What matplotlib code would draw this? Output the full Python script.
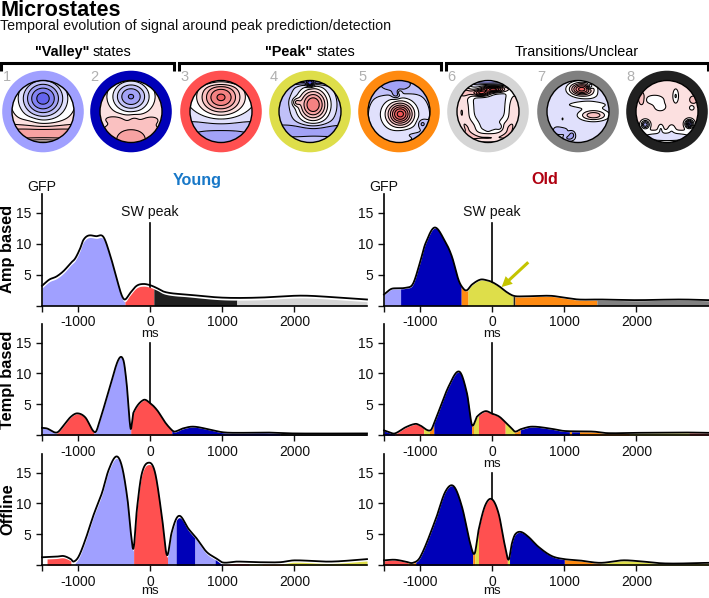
import numpy as np
import matplotlib
matplotlib.use("Agg")
import matplotlib.pyplot as plt
from matplotlib.colors import LinearSegmentedColormap
from matplotlib.patches import Circle

plt.rcParams['font.family'] = ['Liberation Sans', 'DejaVu Sans']

W, H = 709, 598

state_colors = {1: '#A0A0FF', 2: '#0000B8', 3: '#FF5050', 4: '#DEDE4A',
                5: '#FF8A10', 6: '#D5D5D5', 7: '#808080', 8: '#202020'}

# ---- GFP curves (ms, value) and state segments
young_amp_t = [-1500,-1400,-1300,-1200,-1100,-1041,-972,-926,-857,-750,-650,-557,-465,-396,-350,-281,-189,-97,0,100,180,300,500,1000,1500,2000,2200,2500,3005]
young_amp_y = [3.2,4.2,4.7,5.6,6.9,7.6,9.2,10.6,11.3,11.2,11.1,8.2,4.4,1.7,1.0,2.0,3.2,3.5,3.3,2.8,2.3,2.0,1.8,1.3,1.3,1.6,1.6,1.4,1.0]
young_amp_edges = [-1500,-350,50,1200,3005]
young_amp_states = [1,3,8,6]

old_amp_t = [-1500,-1400,-1300,-1200,-1100,-1000,-926,-797,-650,-558,-465,-396,-350,-281,-166,-74,0,100,200,295,400,800,1000,1200,1500,2000,2600,3005]
old_amp_y = [1.8,2.7,2.8,2.9,3.5,7.0,10.0,12.6,10.3,7.9,4.1,2.7,2.5,3.4,4.2,4.1,3.8,3.1,2.2,1.6,1.5,1.6,1.3,1.0,1.0,0.9,1.0,0.9]
old_amp_edges = [-1500,-1270,-430,-335,290,315,1450,3005]
old_amp_states = [1,2,5,4,8,5,7]

young_tpl_t = [-1500,-1430,-1295,-1200,-1100,-1009,-900,-765,-696,-557,-442,-373,-327,-272,-235,-97,0,100,200,295,340,450,594,800,1000,1200,1600,2000,3005]
young_tpl_y = [1.2,1.1,0.45,1.6,3.0,3.55,2.9,0.5,2.5,7.9,12.2,12.2,8.4,1.1,3.6,5.7,5.2,4.0,2.2,0.9,0.6,1.1,1.4,1.0,0.5,0.4,0.45,0.3,0.3]
young_tpl_edges = [-1500,-1300,-780,-270,300,1800,3005]
young_tpl_states = [1,3,1,3,2,8]

old_tpl_t = [-1500,-1430,-1350,-1200,-1064,-1000,-857,-788,-600,-456,-350,-281,-212,-97,0,100,200,272,318,400,548,800,1000,1400,1600,2000,2700,3005]
old_tpl_y = [0.8,0.5,0.3,1.3,1.85,1.6,0.8,2.5,8.0,10.3,6.8,1.7,3.0,3.9,3.5,3.0,1.9,1.1,0.6,1.0,1.4,1.1,0.7,0.6,0.35,0.4,0.45,0.4]
old_tpl_edges = [-1500,-1350,-950,-870,-810,-285,-260,-190,180,310,390,1070,1100,1210,1900,2730,3005]
old_tpl_states = [2,3,4,5,2,5,4,3,4,5,2,5,2,5,4,3]

young_off_t = [-1500,-1300,-1200,-1100,-1062,-993,-900,-785,-669,-577,-471,-392,-314,-268,-231,-185,-115,-14,69,162,231,295,364,424,525,640,779,917,1009,1200,1500,1800,2000,2500,3005]
young_off_y = [1.3,1.4,1.5,1.0,0.6,1.4,4.1,8.15,11.7,15.4,17.6,16.0,10.6,5.2,2.75,9.0,14.9,16.6,14.9,7.9,1.67,5.2,7.6,7.9,6.0,4.4,2.2,1.1,0.45,0.6,0.5,0.5,0.8,0.6,1.0]
young_off_edges = [-1430,-1100,-1040,-230,240,360,620,900,1010,1370,1550,1850,3005]
young_off_states = [3,0,1,3,1,2,1,2,3,4,5,4]

old_off_t = [-1500,-1350,-1200,-1100,-995,-788,-650,-535,-420,-304,-244,-189,-97,-5,88,170,226,272,318,396,502,640,825,1000,1200,1500,1800,2000,2400,3005]
old_off_y = [0.8,0.9,0.6,0.4,1.4,7.3,11.9,12.8,9.5,3.5,1.9,5.7,9.7,10.7,8.4,3.5,0.9,3.5,5.0,5.4,4.6,3.0,1.5,1.0,0.8,0.4,0.8,0.7,0.3,0.4]
old_off_edges = [-1500,-1170,-1060,-270,-240,-190,210,240,1000,1500,3005]
old_off_states = [3,5,2,5,4,3,4,2,5,4]

# ---- microstate maps: blobs (x, y, amplitude, sigma_x, sigma_y) and a base level
map1_base, map1 = 0.2, [(0,.42,-1.2,.48,.44),(0,-.72,.5,1.5,.2),(0,-1.0,-.3,.55,.1),(-.4,-.3,.05,.2,.1)]
map2_base, map2 = 0.28, [(0,.48,-1.0,.42,.36),(0,-.9,.4,.42,.3),(-.42,-.22,.12,.25,.1),(.55,-.25,.1,.2,.1),(.1,-.2,.12,.14,.1)]
map3_base, map3 = -0.15, [(0,.45,1.1,.46,.38),(0,-1.0,-.5,1.5,.5),(0,.95,-.2,.5,.1)]
map4_base, map4 = -0.4, [(.1,.22,1.3,.34,.38),(0,-.62,-.3,1.4,.14),(0,.98,-.5,.9,.08),(.0,.9,-.8,.08,.07),(-.45,.3,.4,.09,.09)]
map5_base, map5 = -0.35, [(.05,-.08,1.0,.24,.22),(0,-.1,.55,.45,.42),(-.1,.55,-.35,.09,.09),(.02,.62,.3,.06,.06),(.75,-.4,-.3,.09,.09),(-.1,.85,-.35,.4,.2),(.2,-.7,-.1,.3,.1)]
map6_base, map6 = -0.2, [(-.85,0,.5,.22,.6),(.85,0,.45,.18,.55),(0,-.85,.5,.7,.13),(-.55,-.55,.3,.2,.2),(.6,-.55,.35,.2,.2),
                         (.18,.72,1.4,.24,.07),(-.22,.6,1.1,.18,.07),(0,.98,-.45,.7,.08),(.38,-.5,-.22,.07,.07),(0,-.58,-.12,.05,.05),(-.7,.62,.35,.2,.1)]
map7_base, map7 = -0.25, [(.12,.72,1.25,.25,.14),(.38,.8,-.5,.06,.06),(.5,-.12,.7,.3,.12),(.3,.22,.25,.55,.09),(.5,.5,.1,.2,.1),
                          (-.5,-.25,.15,.12,.25),(-.3,-.85,-.3,.1,.06),(-.55,-.6,-.2,.15,.1),(-.2,-.75,-.35,.07,.07),(.5,-.7,.1,.4,.1)]
map8_base, map8 = 0.2, [(-.4,.38,-.28,.2,.1),(-.22,.15,-.22,.14,.1),(.28,.5,-.32,.06,.15),(0,-.82,-.45,.85,.13),(-.7,-.42,-.85,.09,.09),
                        (.72,-.4,-1.15,.09,.09),(-.2,-.55,-.25,.06,.1),(.15,-.55,-.2,.08,.1),(.85,.38,.3,.08,.08),(-.82,.42,.3,.07,.14),(.8,.12,-.3,.05,.05)]
map_blobs = [(map1_base,map1),(map2_base,map2),(map3_base,map3),(map4_base,map4),
             (map5_base,map5),(map6_base,map6),(map7_base,map7),(map8_base,map8)]

map_ring_states = [1,2,3,4,5,6,7,8]
map_cx = [43,131,221,310,399,488,578,667]

y_ticks = [0,5,10,15]
y_tick_labels = ['','5','10','15']
x_ticks = [-1500,-1000,0,1000,2000]
x_tick_labels = ['','-1000','0','1000','2000']


def smooth(t, y, tt):
    t, y = np.asarray(t, float), np.asarray(y, float)
    m = np.gradient(y, t)
    m[1:-1] = (y[2:] - y[:-2]) / (t[2:] - t[:-2])
    i = np.clip(np.searchsorted(t, tt, side='right') - 1, 0, len(t) - 2)
    h = t[i+1] - t[i]
    s = (tt - t[i]) / h
    return np.clip((2*s**3-3*s**2+1)*y[i] + (s**3-2*s**2+s)*h*m[i]
                   + (-2*s**3+3*s**2)*y[i+1] + (s**3-s**2)*h*m[i+1], 0, None)


fig = plt.figure(figsize=(W/100, H/100), dpi=100)


def make_ax(left, right, y0, ytop):
    ax = fig.add_axes([left/W, 1-y0/H, (right-left)/W, (y0-ytop)/H])
    ax.set_xlim(-1500, 3005)
    ax.set_ylim(0, 18)
    ax.patch.set_alpha(0)
    for s in ('top', 'right'):
        ax.spines[s].set_visible(False)
    for s in ('left', 'bottom'):
        ax.spines[s].set_linewidth(1.2)
    ax.set_xticks(x_ticks, x_tick_labels)
    ax.set_yticks(y_ticks, y_tick_labels)
    ax.tick_params(length=4.5, width=1.0, labelsize=10, pad=3, colors='#111111')
    ax.tick_params(axis='x', pad=2.2)
    return ax


def panel(ax, t, y, edges, states, gap, sw_top):
    ax.plot([0, 0], [0, sw_top], color='black', lw=1.2, zorder=1)
    for a, b, st in zip(edges[:-1], edges[1:], states):
        if st == 0:
            continue
        ts = np.linspace(a, b, max(int(b - a), 4))
        ax.fill_between(ts, 0, np.clip(smooth(t, y, ts) - gap, 0, None),
                        color=state_colors[st], lw=0, zorder=2)
    tt = np.linspace(-1500, 3005, 1500)
    ax.plot(tt, smooth(t, y, tt), color='black', lw=1.3, zorder=3, clip_on=False)


rows = [(305.7, 194), (435.3, 324), (565.3, 454)]
cols = [(42, 367), (384, 709)]
specs = [
    [(young_amp_t, young_amp_y, young_amp_edges, young_amp_states, .35, 13.3),
     (old_amp_t, old_amp_y, old_amp_edges, old_amp_states, .1, 13.3)],
    [(young_tpl_t, young_tpl_y, young_tpl_edges, young_tpl_states, .08, 15),
     (old_tpl_t, old_tpl_y, old_tpl_edges, old_tpl_states, .08, 15)],
    [(young_off_t, young_off_y, young_off_edges, young_off_states, .3, 15),
     (old_off_t, old_off_y, old_off_edges, old_off_states, .08, 15)],
]
axes = {}
for r, (y0, yt) in enumerate(rows):
    for c, (l, rt) in enumerate(cols):
        ax = make_ax(l, rt, y0, yt)
        panel(ax, *specs[r][c])
        axes[r, c] = ax

axes[0, 1].annotate('', xy=(130, 3.0), xytext=(500, 7.0),
                    arrowprops=dict(arrowstyle='simple,head_width=0.75,head_length=0.75,tail_width=0.22',
                                    color='#C4C400', lw=0, shrinkA=0, shrinkB=0), zorder=5)

# ---- overlay in pixel coordinates
ov = fig.add_axes([0, 0, 1, 1], zorder=10)
ov.patch.set_alpha(0)
ov.axis('off')

ov.text(0, 10.5, 'Microstates', fontsize=15.6, fontweight='bold', va='center', ha='left')
ov.text(0, 26, 'Temporal evolution of signal around peak prediction/detection',
        fontsize=10.25, va='center', ha='left', color='#111111')

# brackets and their labels
for (a, b) in [(1, 174), (179, 441), (446, 708)]:
    ov.plot([a, a, b, b], [70.5, 62.5, 62.5, 70.5], color='black', lw=2.2,
            solid_joinstyle='miter', solid_capstyle='butt')
ov.text(89, 52, '"Valley"', fontsize=10.4, fontweight='bold', ha='right', va='center')
ov.text(93, 52, 'states', fontsize=10.4, ha='left', va='center')
ov.text(312.5, 52, '"Peak"', fontsize=10.4, fontweight='bold', ha='right', va='center')
ov.text(316.5, 52, 'states', fontsize=10.4, ha='left', va='center')
ov.text(577, 52, 'Transitions/Unclear', fontsize=10.4, ha='center', va='center')

# maps
cmap = LinearSegmentedColormap.from_list('tm', ['#5555EE', '#FFFFFF', '#F05555'])
levels = np.arange(-1.1, 1.15, 0.2)
g = np.linspace(-1.02, 1.02, 240)
U, V = np.meshgrid(g, g)
R_out, R_in = 40.8, 31.0
cy = 111.5
for i, (cx, st, (base, blobs)) in enumerate(zip(map_cx, map_ring_states, map_blobs)):
    ov.add_patch(Circle((cx, cy), R_out, color=state_colors[st], lw=0, zorder=1))
    ov.add_patch(Circle((cx, cy), R_in, facecolor='white', edgecolor='none', zorder=2))
    Z = np.full_like(U, base)
    for (x, y, a, sx, sy) in blobs:
        Z = Z + a*np.exp(-((U-x)**2/(2*sx**2) + (V-y)**2/(2*sy**2)))
    X, Y = cx + R_in*U, cy - R_in*V
    clip = Circle((cx, cy), R_in, transform=ov.transData)
    cf = ov.contourf(X, Y, Z, levels=levels, cmap=cmap, vmin=-1.1, vmax=1.1, extend='both', zorder=3)
    cf.set_clip_path(clip)
    cl = ov.contour(X, Y, Z, levels=levels, colors='black', linewidths=0.75,
                    linestyles='solid', zorder=4)
    cl.set_clip_path(clip)
    ov.add_patch(Circle((cx, cy), R_in, facecolor='none', edgecolor='black', lw=1.0, zorder=5))
    ov.text(cx - 36.5, 77, str(i + 1), color='#B0B0B0', fontsize=10.5, ha='center', va='center', zorder=6)

# panel annotations
ov.text(197, 180, 'Young', color='#1878C8', fontsize=11.6, fontweight='bold', ha='center', va='center')
ov.text(545, 180, 'Old', color='#B00010', fontsize=11.6, fontweight='bold', ha='center', va='center')
for x_sp, x_g in ((150, 42), (492, 384)):
    ov.text(x_g, 187, 'GFP', fontsize=10.2, ha='center', va='center', color='#111111')
    ov.text(x_sp, 212, 'SW peak', fontsize=10.2, ha='center', va='center', color='#111111')
for (x, y) in ((150, 334), (492, 334), (492, 464), (150, 591), (492, 591)):
    ov.text(x, y, 'ms', fontsize=9.6, ha='center', va='center', color='#111111')
for y, lab in ((249, 'Amp based'), (380, 'Templ based'), (509, 'Offline')):
    ov.text(7.5, y, lab, fontsize=11.8, fontweight='bold', rotation=90, ha='center', va='center')

ov.set_xlim(0, W)
ov.set_ylim(H, 0)

fig.savefig('out.png', dpi=100)
